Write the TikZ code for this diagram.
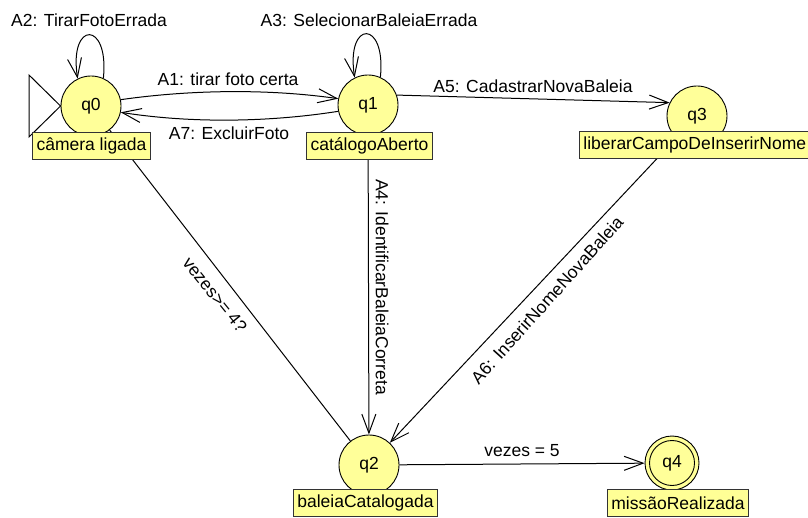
\documentclass[tikz,border=0pt]{standalone}
\usepackage{fontspec}
\setmainfont{Liberation Sans}
\usetikzlibrary{arrows.meta}
\pgfdeclarelayer{bg}
\pgfsetlayers{bg,main}
\definecolor{stfill}{RGB}{255,255,153}
\definecolor{boxfill}{RGB}{255,255,150}
\tikzset{
  state/.style={circle, draw=black, fill=stfill, minimum size=60pt, inner sep=0pt, line width=0.9pt},
  statebox/.style={draw=black!80, fill=boxfill, minimum height=27pt, inner xsep=4pt, inner ysep=2pt, line width=0.9pt},
  edge/.style={line width=1pt, -{Straight Barb[length=19pt, width=14pt, line width=1pt]}},
  plainedge/.style={line width=1pt},
  lab/.style={inner sep=1pt}
}
\begin{document}
\begin{tikzpicture}[x=1pt, y=-1pt, font=\fontsize{17.5}{20}\selectfont]
\useasboundingbox (0,0) rectangle (808,518);
\clip (0,0) rectangle (808,518);

% states
\node[state] (q0) at (91,106) {q0};
\node[state] (q1) at (368,105) {q1};
\node[state] (q3) at (697,116) {q3};
\node[state] (q2) at (369,465) {q2};
\node[state, minimum size=54pt] (q4) at (672,463) {q4};
\draw[line width=0.9pt] (q4.center) circle[radius=22.5pt];

% transitions
\begin{pgfonlayer}{bg}
\fill[white] (0,0) rectangle (808,518);
% initial marker
\coordinate (i1) at (29,75);
\coordinate (i2) at (29,137);
\draw[line width=1pt] (i1) -- (q0.west) -- (i2) -- cycle;
\draw[edge] (q0.12) .. controls +(70,-10) and +(-70,-10) .. (q1.168);
\draw[edge] (q1.-168) .. controls +(-70,11) and +(70,11) .. (q0.-12);
\draw[edge] (q0.66) .. controls +(6,-58) and +(-9,-58) .. (q0.116);
\draw[edge] (q1.66) .. controls +(6,-58) and +(-9,-58) .. (q1.116);
\draw[edge] (q1.19) -- (q3.154);
\draw[edge] (q1) -- (q2);
\draw[edge] (q3) -- (q2);
\draw[plainedge] (q0) -- (q2);
\draw[edge] (q2) -- (q4);
\end{pgfonlayer}

% labels
\node[lab] (la1) at (228,79) {A1: tirar foto certa};
\node[lab] (la7) at (229,133) {A7: ExcluirFoto};
\node[lab] (la2) at (89,20) {A2: TirarFotoErrada};
\node[lab] (la3) at (369,20) {A3: SelecionarBaleiaErrada};
\node[lab] (la5) at (533,86) {A5: CadastrarNovaBaleia};
\node[lab, rotate=-90] (la4) at (382,287) {A4: IdentificarBaleiaCorreta};
\node[lab, rotate=-51] (lv4) at (215,295) {vezes>= 4?};
\node[lab, rotate=48] (la6) at (547,300) {A6: InserirNomeNovaBaleia};
\node[lab] (lv5) at (522,451) {vezes = 5};

% state name boxes
\node[statebox, anchor=north] (b0) at (91.5,132) {câmera ligada};
\node[statebox, anchor=north] (b1) at (369.5,132) {catálogoAberto};
\node[statebox, anchor=north west, text width=250pt, align=left] (b3) at (579,131) {liberarCampoDeInserirNome};
\node[statebox, anchor=north] (b2) at (365.5,489) {baleiaCatalogada};
\node[statebox, anchor=north] (b4) at (678,489) {missãoRealizada};
\end{tikzpicture}
\end{document}
